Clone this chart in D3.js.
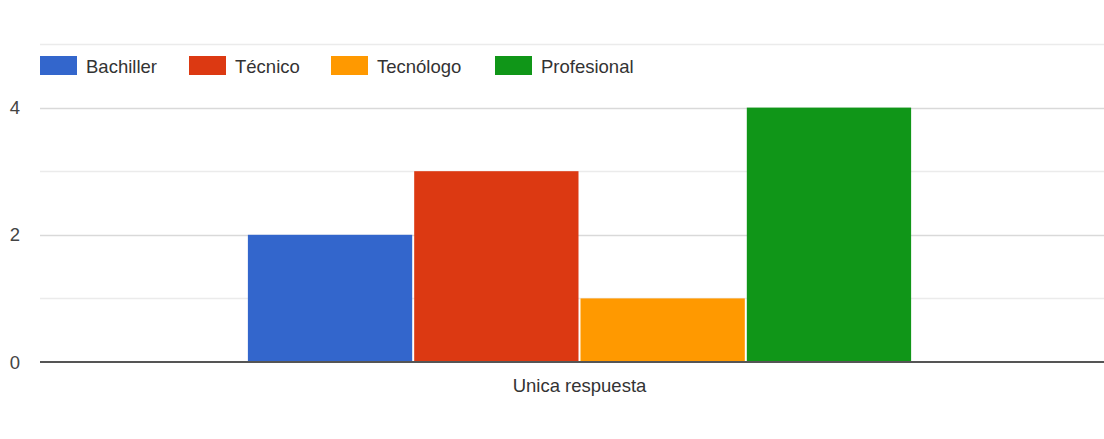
<!DOCTYPE html>
<html><head><meta charset="utf-8">
<script src="https://cdn.jsdelivr.net/npm/d3@7/dist/d3.min.js"></script>
<style>body{margin:0;background:#fff;} svg{display:block;font-family:Arial,"Liberation Sans",sans-serif;}</style>
</head><body>
<script>
const categories = ["Unica respuesta"];
const seriesNames = ["Bachiller", "Técnico", "Tecnólogo", "Profesional"];
const seriesValues = [2, 3, 1, 4];
const seriesColors = ["#3366cc", "#dc3912", "#ff9900", "#109618"];
const majorTicks = [0, 2, 4];
const minorTicks = [1, 3, 5];

const W = 1104, H = 439;
const svg = d3.select("body").append("svg").attr("width", W).attr("height", H);

const y = d3.scaleLinear().domain([0, 5]).range([362, 44]);
const x0 = d3.scaleBand().domain(categories).range([40, 1119]).paddingOuter(0.311).paddingInner(0);
const x1 = d3.scaleBand().domain(seriesNames).range([0, x0.bandwidth()]).padding(0);

// gridlines
svg.append("g").selectAll("line").data(minorTicks).join("line")
  .attr("x1", 40).attr("x2", W).attr("y1", d => Math.round(y(d)) + 0.5).attr("y2", d => Math.round(y(d)) + 0.5)
  .attr("stroke", "#ebebeb").attr("stroke-width", 1.5);
svg.append("g").selectAll("line").data(majorTicks.filter(d => d > 0)).join("line")
  .attr("x1", 40).attr("x2", W).attr("y1", d => Math.round(y(d)) + 0.5).attr("y2", d => Math.round(y(d)) + 0.5)
  .attr("stroke", "#d9d9d9").attr("stroke-width", 1.5);

// y tick labels
svg.append("g").selectAll("text").data(majorTicks).join("text")
  .attr("x", 20).attr("y", d => y(d)).attr("dy", "0.36em").attr("text-anchor", "end")
  .attr("font-size", 18.5).attr("fill", "#444").text(d => d);

// bars
const g = svg.append("g").attr("transform", `translate(${x0(categories[0])},0)`);
g.selectAll("rect").data(seriesNames).join("rect")
  .attr("x", d => x1(d) + 1).attr("width", x1.bandwidth() - 2)
  .attr("y", (d, i) => y(seriesValues[i])).attr("height", (d, i) => y(0) - y(seriesValues[i]))
  .attr("fill", (d, i) => seriesColors[i]);

// baseline
svg.append("line").attr("x1", 40).attr("x2", W).attr("y1", 362).attr("y2", 362)
  .attr("stroke", "#555").attr("stroke-width", 2);

// category label
svg.append("text").attr("x", x0(categories[0]) + x0.bandwidth() / 2).attr("y", 392)
  .attr("text-anchor", "middle").attr("font-size", 18.5).attr("fill", "#333").text(categories[0]);

// legend
const legendX = [40, 189, 331, 495];
const lg = svg.append("g").selectAll("g").data(seriesNames).join("g")
  .attr("transform", (d, i) => `translate(${legendX[i]},56)`);
lg.append("rect").attr("width", 37).attr("height", 19).attr("fill", (d, i) => seriesColors[i]);
lg.append("text").attr("x", 46).attr("y", 17).attr("font-size", 18.5).attr("fill", "#333").text(d => d);
</script>
</body></html>
